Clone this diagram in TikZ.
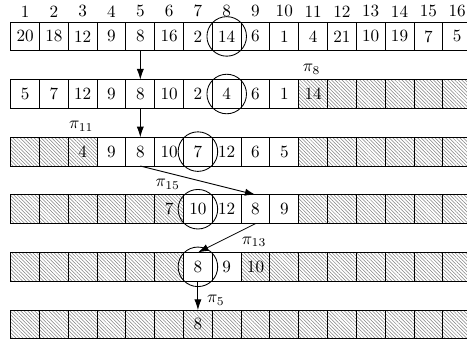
\documentclass[tikz,border=0pt]{standalone}
\usetikzlibrary{patterns.meta,arrows.meta}
\begin{document}
\begin{tikzpicture}[x=0.59cm,y=0.59cm,
  cell/.style={draw,line width=0.5pt,minimum size=0.59cm,inner sep=0pt,outer sep=0pt},
  hcell/.style={cell,pattern={Lines[angle=-45,distance=1.45pt,line width=0.3pt]},pattern color=black!50},
  ring/.style={draw,circle,line width=0.5pt,minimum size=0.81cm,inner sep=0pt},
  arr/.style={-{Latex[length=6.2pt,width=4.2pt]},line width=0.5pt},
  lab/.style={inner sep=0pt}]
\useasboundingbox (-0.372,0.764) rectangle (15.843,-11.146);
% index row
\foreach \i in {1,...,16} \node[lab] (n\i) at (\i-0.5,0.37) {\i};
% row 1
\foreach \i/\v/\s in {1/20/cell,2/18/cell,3/12/cell,4/9/cell,5/8/cell,6/16/cell,7/2/cell,8/14/cell,
  9/6/cell,10/1/cell,11/4/cell,12/21/cell,13/10/cell,14/19/cell,15/7/cell,16/5/cell}
  \node[\s] (a\i) at (\i-0.5,-0.5) {\v};
% row 2
\foreach \i/\v/\s in {1/5/cell,2/7/cell,3/12/cell,4/9/cell,5/8/cell,6/10/cell,7/2/cell,8/4/cell,
  9/6/cell,10/1/cell,11/14/hcell,12/{}/hcell,13/{}/hcell,14/{}/hcell,15/{}/hcell,16/{}/hcell}
  \node[\s] (b\i) at (\i-0.5,-2.5) {\v};
% row 3
\foreach \i/\v/\s in {1/{}/hcell,2/{}/hcell,3/4/hcell,4/9/cell,5/8/cell,6/10/cell,7/7/cell,8/12/cell,
  9/6/cell,10/5/cell,11/{}/hcell,12/{}/hcell,13/{}/hcell,14/{}/hcell,15/{}/hcell,16/{}/hcell}
  \node[\s] (c\i) at (\i-0.5,-4.5) {\v};
% row 4
\foreach \i/\v/\s in {1/{}/hcell,2/{}/hcell,3/{}/hcell,4/{}/hcell,5/{}/hcell,6/7/hcell,7/10/cell,8/12/cell,
  9/8/cell,10/9/cell,11/{}/hcell,12/{}/hcell,13/{}/hcell,14/{}/hcell,15/{}/hcell,16/{}/hcell}
  \node[\s] (d\i) at (\i-0.5,-6.5) {\v};
% row 5
\foreach \i/\v/\s in {1/{}/hcell,2/{}/hcell,3/{}/hcell,4/{}/hcell,5/{}/hcell,6/{}/hcell,7/8/cell,8/9/cell,
  9/10/hcell,10/{}/hcell,11/{}/hcell,12/{}/hcell,13/{}/hcell,14/{}/hcell,15/{}/hcell,16/{}/hcell}
  \node[\s] (e\i) at (\i-0.5,-8.5) {\v};
% row 6
\foreach \i/\v/\s in {1/{}/hcell,2/{}/hcell,3/{}/hcell,4/{}/hcell,5/{}/hcell,6/{}/hcell,7/8/hcell,8/{}/hcell,
  9/{}/hcell,10/{}/hcell,11/{}/hcell,12/{}/hcell,13/{}/hcell,14/{}/hcell,15/{}/hcell,16/{}/hcell}
  \node[\s] (f\i) at (\i-0.5,-10.5) {\v};
% circles
\node[ring] (o1) at (a8.center) {};
\node[ring] (o2) at (b8.center) {};
\node[ring] (o3) at (c7.center) {};
\node[ring] (o4) at (d7.center) {};
\node[ring] (o5) at (e7.center) {};
% labels
\node[lab] (p8) at (10.45,-1.65) {$\pi_8$};
\node[lab] (p11) at (2.45,-3.63) {$\pi_{11}$};
\node[lab] (p15) at (5.45,-5.63) {$\pi_{15}$};
\node[lab] (p13) at (8.45,-7.63) {$\pi_{13}$};
\node[lab] (p5) at (7.12,-9.67) {$\pi_5$};
% arrows
\draw[arr] (a5.south) -- (b5.north);
\draw[arr] (b5.south) -- (c5.north);
\draw[arr] (c5.south) -- (d9.north);
\draw[arr] (d9.south) -- (e7.north);
\draw[arr] (e7.south) -- (f7.north);
\end{tikzpicture}
\end{document}
